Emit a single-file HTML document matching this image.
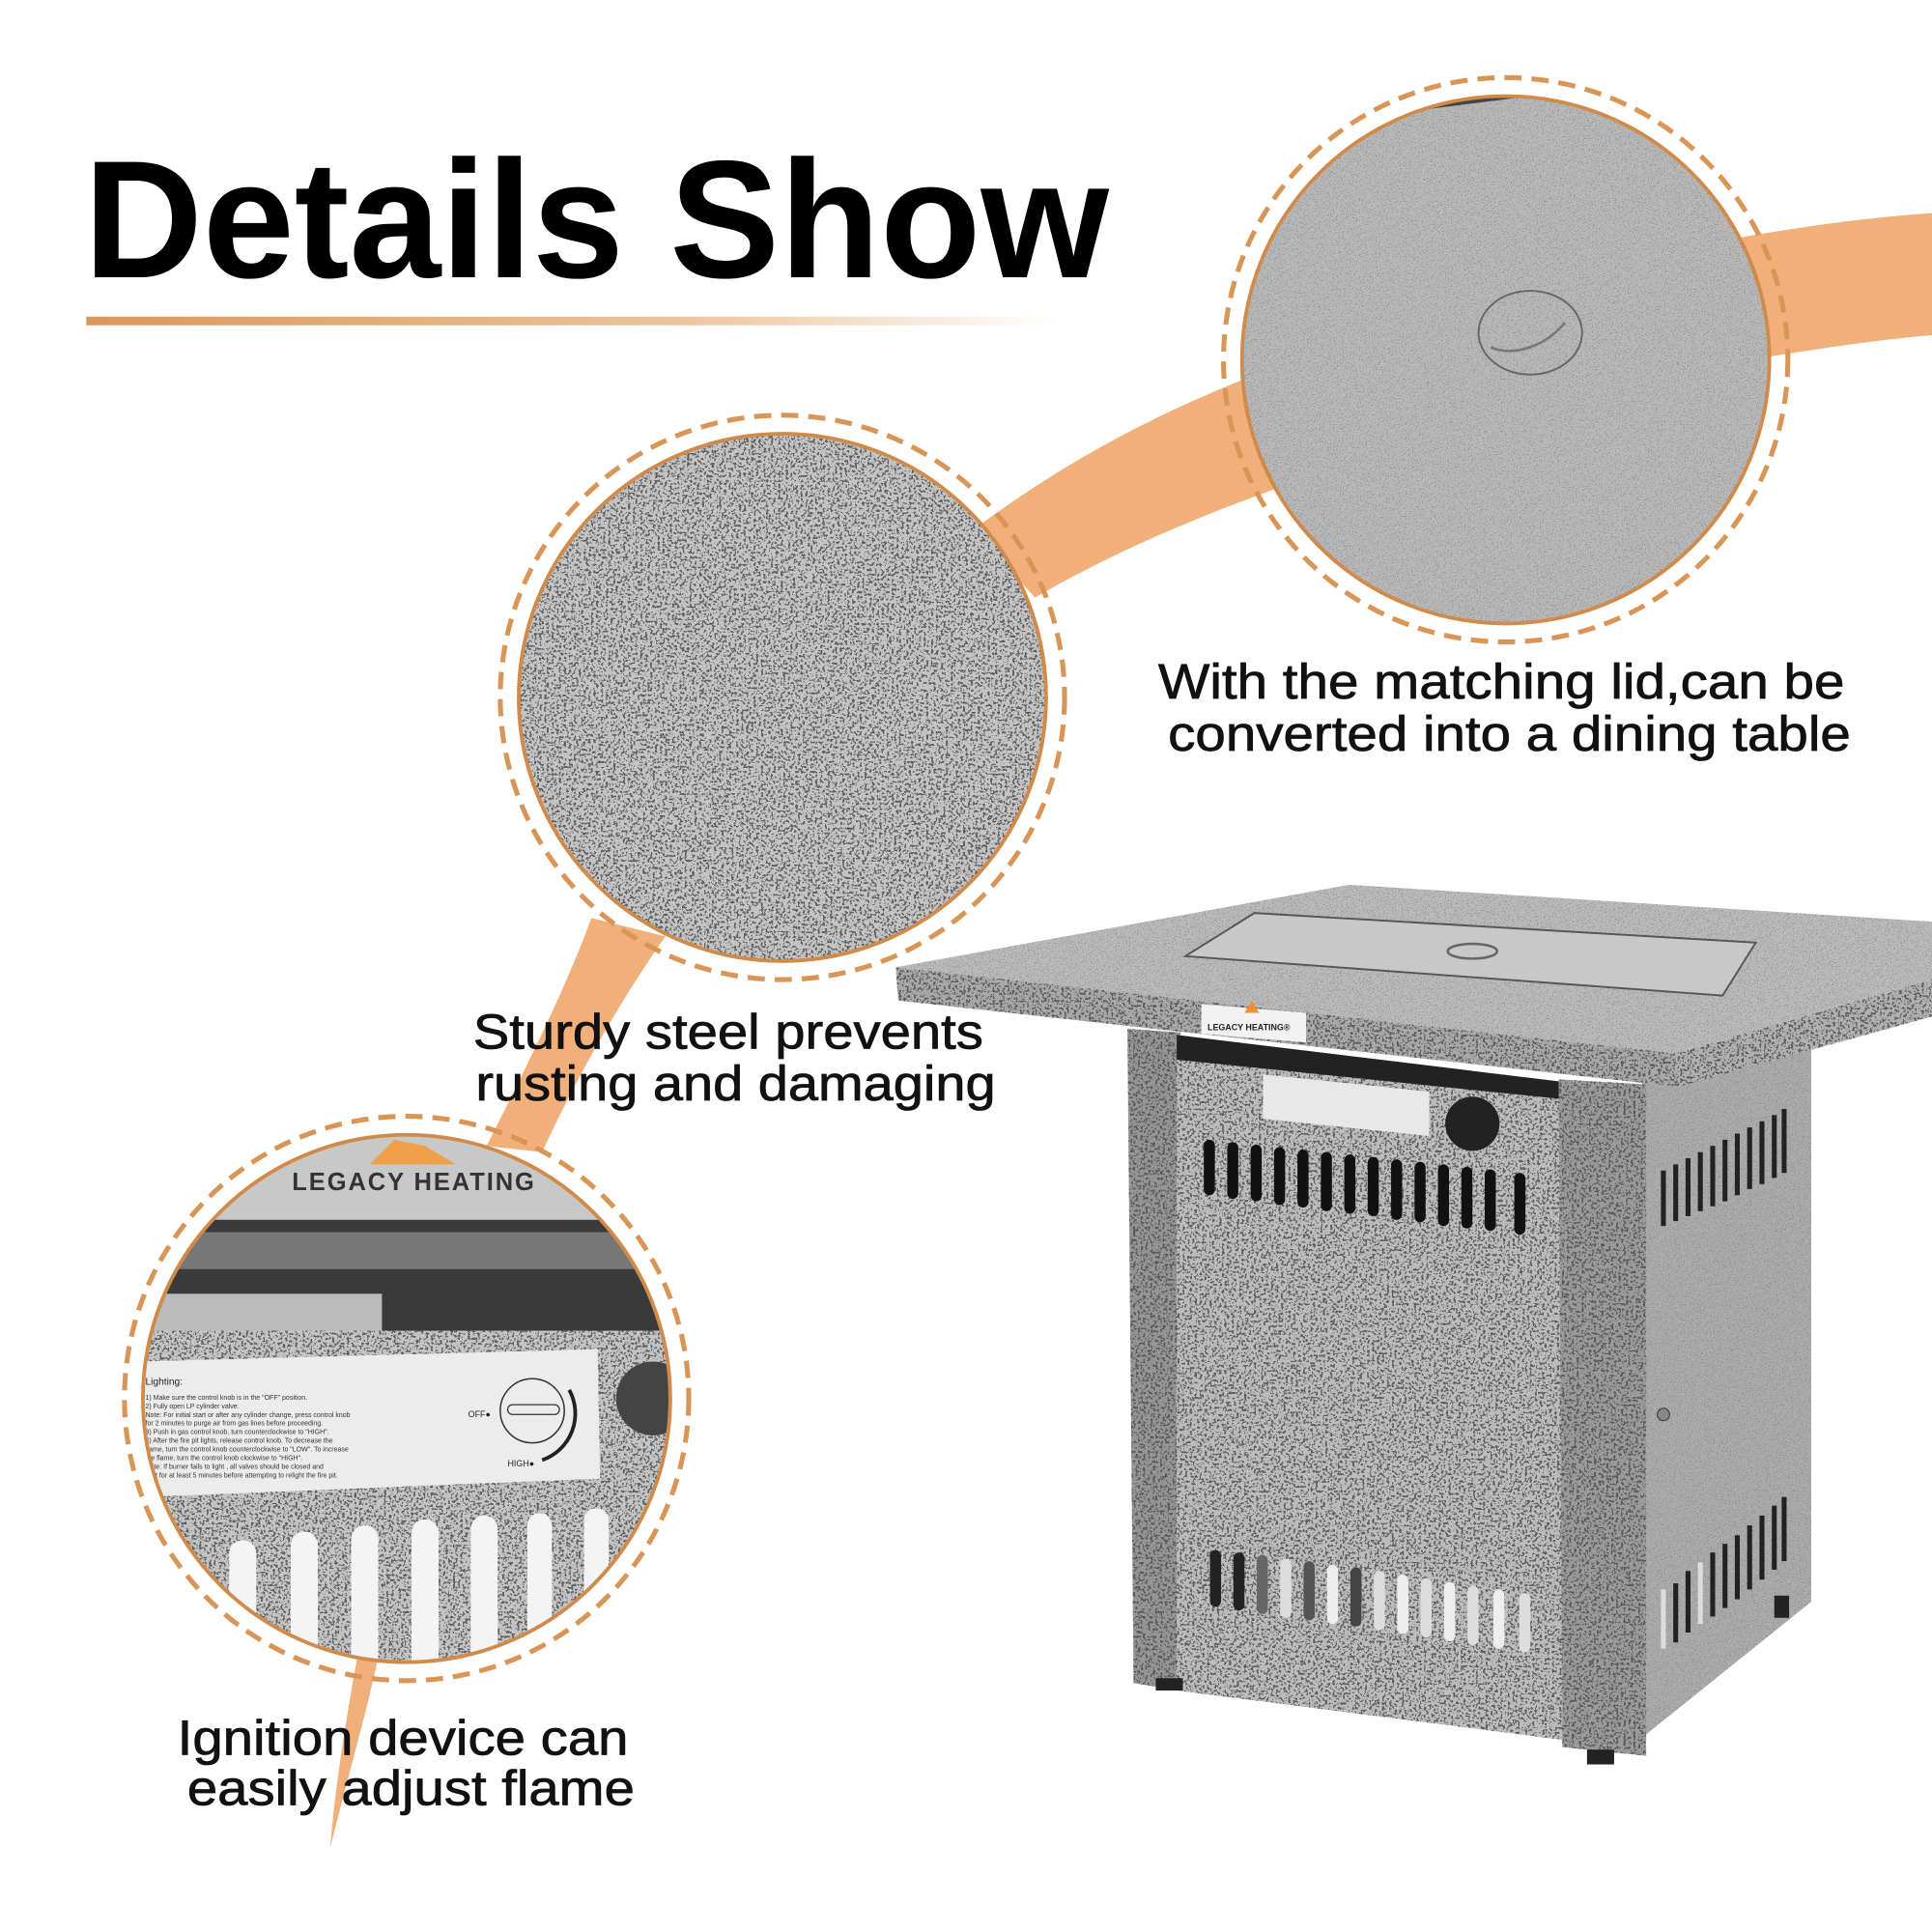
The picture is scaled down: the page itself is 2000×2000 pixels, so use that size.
<!DOCTYPE html>
<html><head><meta charset="utf-8"><style>
html,body{margin:0;padding:0;background:#fff;width:2000px;height:2000px;overflow:hidden}
svg{display:block}
text{font-family:"Liberation Sans",sans-serif}
</style></head><body>
<svg width="2000" height="2000" viewBox="0 0 1568 1568" xmlns="http://www.w3.org/2000/svg">
<defs>
<filter id="spk" x="0" y="0" width="100%" height="100%">
<feTurbulence type="fractalNoise" baseFrequency="0.5" numOctaves="2" seed="3"/>
<feColorMatrix type="matrix" values="0 0 0 0 0.08  0 0 0 0 0.08  0 0 0 0 0.08  1 1 1 0 -1.12"/>
<feComponentTransfer><feFuncA type="discrete" tableValues="0 0.85"/></feComponentTransfer>
<feComposite in2="SourceGraphic" operator="in"/>
</filter>
<filter id="spk2" x="0" y="0" width="100%" height="100%">
<feTurbulence type="fractalNoise" baseFrequency="0.9" numOctaves="2" seed="7"/>
<feColorMatrix type="matrix" values="0 0 0 0 0.2  0 0 0 0 0.2  0 0 0 0 0.2  1 1 1 0 -1.18"/>
<feComponentTransfer><feFuncA type="discrete" tableValues="0 0.55"/></feComponentTransfer>
<feComposite in2="SourceGraphic" operator="in"/>
</filter>
<linearGradient id="ul" x1="0" x2="1"><stop offset="0" stop-color="#d9975a"/><stop offset="0.6" stop-color="#ecc39a"/><stop offset="1" stop-color="#fff"/></linearGradient>
<clipPath id="c1"><circle cx="1222" cy="292" r="214"/></clipPath>
<clipPath id="c2"><circle cx="635" cy="566" r="214"/></clipPath>
<clipPath id="c3"><circle cx="330" cy="1135" r="214"/></clipPath>
</defs>

<g fill="#f1b07a">
<path d="M1568,173 L1568,272 C1520,276 1470,284 1420,292 L1400,195 C1460,184 1520,176 1568,173Z"/>
<path d="M1030,300 C950,330 870,370 790,430 L840,485 C900,450 970,420 1040,395Z"/>
<path d="M480,745 C460,800 430,860 395,930 L440,935 C470,870 505,810 540,760Z"/>
<path d="M290,1345 L307,1345 C295,1400 280,1450 268,1500 C272,1450 280,1400 290,1345Z"/>
</g>

<text x="68" y="225" font-size="136" font-weight="bold" fill="#000" textLength="832" lengthAdjust="spacingAndGlyphs">Details Show</text>
<rect x="70" y="257" width="790" height="7" fill="url(#ul)"/>

<circle cx="1222" cy="292" r="229" fill="none" stroke="#d99556" stroke-width="4" stroke-dasharray="14 8"/>
<g clip-path="url(#c1)">
<rect x="1000" y="70" width="450" height="450" fill="#b8b8b8"/>
<rect x="1000" y="70" width="450" height="450" fill="#fff" filter="url(#spk2)"/>
<path d="M1120,92 L1230,78" stroke="#444" stroke-width="3"/>
<ellipse cx="1242" cy="270" rx="42" ry="34" fill="none" stroke="#666" stroke-width="1.5"/>
<path d="M1210,282 C1230,290 1255,280 1270,262" fill="none" stroke="#777" stroke-width="2"/>
</g>
<circle cx="1222" cy="292" r="214" fill="none" stroke="#d08a4a" stroke-width="3"/>

<circle cx="635" cy="566" r="229" fill="none" stroke="#d99556" stroke-width="4" stroke-dasharray="14 8"/>
<g clip-path="url(#c2)">
<rect x="420" y="350" width="430" height="430" fill="#c4c4c4"/>
<rect x="420" y="350" width="430" height="430" fill="#fff" filter="url(#spk)"/>
</g>
<circle cx="635" cy="566" r="214" fill="none" stroke="#d08a4a" stroke-width="3"/>

<circle cx="330" cy="1135" r="229" fill="none" stroke="#d99556" stroke-width="4" stroke-dasharray="14 8"/>
<g clip-path="url(#c3)">
<rect x="110" y="915" width="440" height="80" fill="#c8c8c8"/>
<path d="M300,945 L320,925 L345,930 L370,945Z" fill="#f0a048"/>
<text x="237" y="966" font-size="20" font-weight="bold" fill="#333" letter-spacing="1.5">LEGACY HEATING</text>
<rect x="110" y="990" width="440" height="95" fill="#3a3a3a"/>
<rect x="110" y="1000" width="440" height="30" fill="#777"/>
<rect x="110" y="1050" width="200" height="35" fill="#bbb"/>
<rect x="110" y="1080" width="440" height="280" fill="#c4c4c4"/>
<rect x="110" y="1080" width="440" height="280" fill="#fff" filter="url(#spk)"/>
<polygon points="115,1105 485,1095 487,1200 118,1215" fill="#ececec"/>
<text x="118" y="1124" font-size="8" fill="#222">Lighting:</text>
<g font-size="5.5" fill="#333">
<text x="118" y="1136">1) Make sure the control knob is in the "OFF" position.</text>
<text x="118" y="1143">2) Fully open LP cylinder valve.</text>
<text x="118" y="1150">Note: For initial start or after any cylinder change, press control knob</text>
<text x="118" y="1157">for 2 minutes to purge air from gas lines before proceeding.</text>
<text x="118" y="1164">3) Push in gas control knob, turn counterclockwise to "HIGH".</text>
<text x="118" y="1171">4) After the fire pit lights, release control knob. To decrease the</text>
<text x="118" y="1178">flame, turn the control knob counterclockwise to "LOW". To increase</text>
<text x="118" y="1185">the flame, turn the control knob clockwise to "HIGH".</text>
<text x="118" y="1192">Note: If burner fails to light , all valves should be closed and</text>
<text x="118" y="1199">wait for at least 5 minutes before attempting to relight the fire pit.</text>
</g>
<circle cx="432" cy="1145" r="26" fill="none" stroke="#333" stroke-width="1.2"/>
<rect x="412" y="1140" width="42" height="8" rx="4" fill="none" stroke="#333"/>
<text x="380" y="1150" font-size="7" fill="#222">OFF●</text>
<text x="412" y="1190" font-size="7" fill="#222">HIGH●</text>
<path d="M462,1128 A40,40 0 0 1 440,1185" fill="none" stroke="#222" stroke-width="3"/>
<circle cx="530" cy="1135" r="30" fill="#444"/>
<g fill="#f4f4f4">
<rect x="186" y="1250" width="22" height="110" rx="11"/>
<rect x="236" y="1243" width="22" height="117" rx="11"/>
<rect x="285" y="1238" width="22" height="122" rx="11"/>
<rect x="334" y="1233" width="22" height="127" rx="11"/>
<rect x="382" y="1230" width="22" height="130" rx="11"/>
<rect x="428" y="1228" width="20" height="130" rx="10"/>
<rect x="474" y="1224" width="20" height="130" rx="10"/>
</g>
</g>
<circle cx="330" cy="1135" r="214" fill="none" stroke="#d08a4a" stroke-width="3"/>

<g font-size="40" fill="#111" stroke="#111" stroke-width="0.6">
<text x="940" y="567" textLength="557" lengthAdjust="spacingAndGlyphs">With the matching lid,can be</text>
<text x="948" y="609" textLength="554" lengthAdjust="spacingAndGlyphs">converted into a dining table</text>
<text x="384" y="851" textLength="414" lengthAdjust="spacingAndGlyphs">Sturdy steel prevents</text>
<text x="386" y="893" textLength="422" lengthAdjust="spacingAndGlyphs">rusting and damaging</text>
<text x="144" y="1424" textLength="366" lengthAdjust="spacingAndGlyphs">Ignition device can</text>
<text x="152" y="1465" textLength="363" lengthAdjust="spacingAndGlyphs">easily adjust flame</text>
</g>

<g>
<polygon points="1333,875 1470,850 1470,1300 1333,1410" fill="#ababab"/>
<polygon points="1333,875 1470,850 1470,1300 1333,1410" fill="#fff" filter="url(#spk2)"/>
<rect x="1440" y="1295" width="12" height="18" fill="#222"/>
<polygon points="915,835 958,838 958,1372 920,1366" fill="#959595"/>
<polygon points="915,835 958,838 958,1372 920,1366" fill="#fff" filter="url(#spk)"/>
<polygon points="955,840 1268,878 1268,1412 955,1372" fill="#bcbcbc"/>
<polygon points="955,840 1268,878 1268,1412 955,1372" fill="#fff" filter="url(#spk)"/>
<polygon points="955,840 1268,878 1268,892 955,860" fill="#222"/>
<polygon points="1265,876 1336,880 1336,1425 1268,1418" fill="#9a9a9a"/>
<polygon points="1265,876 1336,880 1336,1425 1268,1418" fill="#fff" filter="url(#spk)"/>
<rect x="938" y="1362" width="22" height="10" fill="#222"/>
<rect x="1288" y="1420" width="22" height="12" fill="#222"/>
<polygon points="1025,872 1160,886 1160,922 1025,908" fill="#e8e8e8"/>
<circle cx="1195" cy="912" r="22" fill="#222"/>
<g fill="#111">
<rect x="977" y="925" width="9" height="45" rx="4.5"/>
<rect x="996" y="927" width="9" height="46" rx="4.5"/>
<rect x="1015" y="929" width="9" height="46" rx="4.5"/>
<rect x="1034" y="931" width="9" height="47" rx="4.5"/>
<rect x="1053" y="933" width="9" height="47" rx="4.5"/>
<rect x="1072" y="935" width="9" height="48" rx="4.5"/>
<rect x="1091" y="937" width="9" height="48" rx="4.5"/>
<rect x="1110" y="939" width="9" height="48" rx="4.5"/>
<rect x="1129" y="941" width="9" height="49" rx="4.5"/>
<rect x="1148" y="943" width="9" height="49" rx="4.5"/>
<rect x="1167" y="945" width="9" height="50" rx="4.5"/>
<rect x="1186" y="947" width="9" height="50" rx="4.5"/>
<rect x="1205" y="949" width="9" height="50" rx="4.5"/>
<rect x="1229" y="952" width="9" height="50" rx="4.5"/>
</g>
<g fill="#222">
<rect x="982" y="1258" width="9" height="46" rx="4.5"/>
<rect x="1001" y="1260" width="9" height="47" rx="4.5"/>
<rect x="1020" y="1262" width="9" height="48" rx="4.5" fill="#666"/>
<rect x="1039" y="1265" width="9" height="48" rx="4.5" fill="#ddd"/>
<rect x="1058" y="1267" width="9" height="48" rx="4.5" fill="#555"/>
<rect x="1077" y="1270" width="9" height="48" rx="4.5" fill="#eee"/>
<rect x="1096" y="1272" width="9" height="48" rx="4.5" fill="#444"/>
<rect x="1115" y="1275" width="9" height="48" rx="4.5" fill="#ddd"/>
<rect x="1134" y="1278" width="9" height="48" rx="4.5" fill="#eee"/>
<rect x="1153" y="1281" width="9" height="48" rx="4.5" fill="#ddd"/>
<rect x="1172" y="1284" width="9" height="48" rx="4.5" fill="#eee"/>
<rect x="1191" y="1287" width="9" height="48" rx="4.5" fill="#ddd"/>
<rect x="1212" y="1290" width="9" height="48" rx="4.5" fill="#eee"/>
<rect x="1233" y="1293" width="9" height="48" rx="4.5" fill="#ddd"/>
</g>
<g fill="#222">
<rect x="1348" y="950" width="4" height="45"/><rect x="1358" y="945" width="4" height="46"/><rect x="1368" y="940" width="4" height="47"/><rect x="1378" y="935" width="4" height="48"/><rect x="1388" y="930" width="4" height="49"/><rect x="1398" y="925" width="4" height="50"/><rect x="1408" y="920" width="4" height="50"/><rect x="1418" y="915" width="4" height="50"/><rect x="1428" y="910" width="4" height="51"/><rect x="1438" y="905" width="4" height="51"/><rect x="1446" y="900" width="4" height="52"/>
<rect x="1348" y="1290" width="4" height="48" fill="#ddd"/><rect x="1358" y="1285" width="4" height="48"/><rect x="1368" y="1275" width="4" height="50"/><rect x="1378" y="1268" width="4" height="50" fill="#ddd"/><rect x="1388" y="1260" width="4" height="52"/><rect x="1398" y="1253" width="4" height="52"/><rect x="1408" y="1246" width="4" height="52"/><rect x="1418" y="1238" width="4" height="52"/><rect x="1428" y="1230" width="4" height="52"/><rect x="1438" y="1222" width="4" height="52"/><rect x="1446" y="1215" width="4" height="52"/>
</g>
<circle cx="1350" cy="1148" r="5" fill="#888" stroke="#444"/>
<polygon points="727,785 1095,718 1568,748 1568,795 1360,855" fill="#bababa"/>
<polygon points="727,785 1095,718 1568,748 1568,795 1360,855" fill="#fff" filter="url(#spk2)"/>
<polygon points="962,776 1018,741 1425,765 1398,808" fill="#c8c8c8" stroke="#555" stroke-width="1.5"/>
<ellipse cx="1195" cy="772" rx="20" ry="6" fill="none" stroke="#666" stroke-width="2"/>
<polygon points="727,785 1360,855 1362,882 729,812" fill="#a8a8a8"/>
<polygon points="727,785 1360,855 1362,882 729,812" fill="#fff" filter="url(#spk)"/>
<polygon points="1360,855 1568,795 1568,825 1362,882" fill="#b0b0b0"/>
<polygon points="1360,855 1568,795 1568,825 1362,882" fill="#fff" filter="url(#spk)"/>
<polygon points="975,815 1060,822 1060,846 975,839" fill="#f2f2f2"/>
<path d="M1010,822 L1016,812 L1022,822Z" fill="#f09030"/>
<text x="980" y="836" font-size="7" font-weight="bold" fill="#222">LEGACY HEATING®</text>
</g>
</svg>
</body></html>
